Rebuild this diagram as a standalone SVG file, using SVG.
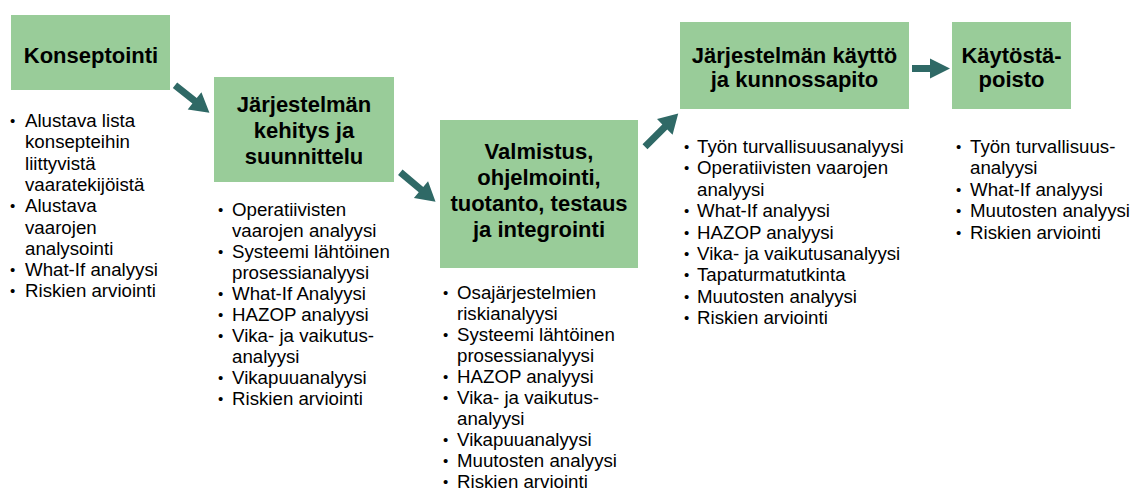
<svg xmlns="http://www.w3.org/2000/svg" width="1135" height="490" viewBox="0 0 1135 490">
  <style>
    .box { fill: #99CC99; }
    .title { font-family: "Liberation Sans", Arial, sans-serif; font-size: 22px; font-weight: bold; fill: #000; text-anchor: middle; }
    .item { font-family: "Liberation Sans", Arial, sans-serif; font-size: 18.7px; fill: #000; }
    .item text:nth-child(odd) { }
    .dot { font-size: 15px; }
    .arrow { fill: #2F6966; }
  </style>
  <rect width="1135" height="490" fill="#fff"/>

  <!-- phase 1 -->
  <g id="konseptointi">
    <rect class="box" x="11" y="15" width="159" height="75"/>
    <text class="title" x="91" y="63">Konseptointi</text>
    <g class="item">
      <text class="dot" x="10" y="126">•</text><text x="25" y="127">Alustava lista</text>
      <text x="25" y="148.3">konsepteihin</text>
      <text x="25" y="169.6">liittyvistä</text>
      <text x="25" y="190.9">vaaratekijöistä</text>
      <text class="dot" x="10" y="211.2">•</text><text x="25" y="212.2">Alustava</text>
      <text x="25" y="233.5">vaarojen</text>
      <text x="25" y="254.8">analysointi</text>
      <text class="dot" x="10" y="275.1">•</text><text x="25" y="276.1">What-If analyysi</text>
      <text class="dot" x="10" y="296.4">•</text><text x="25" y="297.4">Riskien arviointi</text>
    </g>
  </g>

  <!-- phase 2 -->
  <g id="kehitys">
    <rect class="box" x="214" y="77" width="180" height="105"/>
    <text class="title" x="304" y="112">Järjestelmän</text>
    <text class="title" x="304" y="138">kehitys ja</text>
    <text class="title" x="304" y="164">suunnittelu</text>
    <g class="item">
      <text class="dot" x="218" y="215">•</text><text x="232" y="216">Operatiivisten</text>
      <text x="232" y="237">vaarojen analyysi</text>
      <text class="dot" x="218" y="257">•</text><text x="232" y="258">Systeemi lähtöinen</text>
      <text x="232" y="279">prosessianalyysi</text>
      <text class="dot" x="218" y="299">•</text><text x="232" y="300">What-If Analyysi</text>
      <text class="dot" x="218" y="320">•</text><text x="232" y="321">HAZOP analyysi</text>
      <text class="dot" x="218" y="341">•</text><text x="232" y="342">Vika- ja vaikutus-</text>
      <text x="232" y="363">analyysi</text>
      <text class="dot" x="218" y="383">•</text><text x="232" y="384">Vikapuuanalyysi</text>
      <text class="dot" x="218" y="404">•</text><text x="232" y="405">Riskien arviointi</text>
    </g>
  </g>

  <!-- phase 3 -->
  <g id="valmistus">
    <rect class="box" x="440" y="120" width="198" height="148"/>
    <text class="title" x="539" y="159">Valmistus,</text>
    <text class="title" x="539" y="185">ohjelmointi,</text>
    <text class="title" x="539" y="211">tuotanto, testaus</text>
    <text class="title" x="539" y="237">ja integrointi</text>
    <g class="item">
      <text class="dot" x="443" y="298">•</text><text x="457" y="299">Osajärjestelmien</text>
      <text x="457" y="320">riskianalyysi</text>
      <text class="dot" x="443" y="340">•</text><text x="457" y="341">Systeemi lähtöinen</text>
      <text x="457" y="362">prosessianalyysi</text>
      <text class="dot" x="443" y="382">•</text><text x="457" y="383">HAZOP analyysi</text>
      <text class="dot" x="443" y="403">•</text><text x="457" y="404">Vika- ja vaikutus-</text>
      <text x="457" y="425">analyysi</text>
      <text class="dot" x="443" y="445">•</text><text x="457" y="446">Vikapuuanalyysi</text>
      <text class="dot" x="443" y="466">•</text><text x="457" y="467">Muutosten analyysi</text>
      <text class="dot" x="443" y="487">•</text><text x="457" y="488">Riskien arviointi</text>
    </g>
  </g>

  <!-- phase 4 -->
  <g id="kaytto">
    <rect class="box" x="680" y="22" width="229" height="87"/>
    <text class="title" x="794.5" y="63">Järjestelmän käyttö</text>
    <text class="title" x="794.5" y="87">ja kunnossapito</text>
    <g class="item">
      <text class="dot" x="684" y="152">•</text><text x="697" y="153">Työn turvallisuusanalyysi</text>
      <text class="dot" x="684" y="173.4">•</text><text x="697" y="174.4">Operatiivisten vaarojen</text>
      <text x="697" y="195.8">analyysi</text>
      <text class="dot" x="684" y="216.2">•</text><text x="697" y="217.2">What-If analyysi</text>
      <text class="dot" x="684" y="237.6">•</text><text x="697" y="238.6">HAZOP analyysi</text>
      <text class="dot" x="684" y="259">•</text><text x="697" y="260">Vika- ja vaikutusanalyysi</text>
      <text class="dot" x="684" y="280.4">•</text><text x="697" y="281.4">Tapaturmatutkinta</text>
      <text class="dot" x="684" y="301.8">•</text><text x="697" y="302.8">Muutosten analyysi</text>
      <text class="dot" x="684" y="323.2">•</text><text x="697" y="324.2">Riskien arviointi</text>
    </g>
  </g>

  <!-- phase 5 -->
  <g id="kaytostapoisto">
    <rect class="box" x="952" y="22" width="119" height="87"/>
    <text class="title" x="1011.5" y="63">Käytöstä-</text>
    <text class="title" x="1011.5" y="87">poisto</text>
    <g class="item">
      <text class="dot" x="956" y="152">•</text><text x="970" y="153">Työn turvallisuus-</text>
      <text x="970" y="174.4">analyysi</text>
      <text class="dot" x="956" y="194.8">•</text><text x="970" y="195.8">What-If analyysi</text>
      <text class="dot" x="956" y="216.2">•</text><text x="970" y="217.2">Muutosten analyysi</text>
      <text class="dot" x="956" y="237.6">•</text><text x="970" y="238.6">Riskien arviointi</text>
    </g>
  </g>

  <!-- block arrows between phases: drawn along +x from the tail, then placed -->
  <g id="connectors">
    <path class="arrow" transform="translate(175,85.3) rotate(38.5)" d="M0,-3.5 H25 V-11 L44,0 L25,11 V3.5 H0 Z"/>
    <path class="arrow" transform="translate(400.3,172.3) rotate(40)" d="M0,-3.5 H27 V-11 L46,0 L27,11 V3.5 H0 Z"/>
    <path class="arrow" transform="translate(645,146.7) rotate(-45)" d="M0,-3.5 H28 V-11 L47,0 L28,11 V3.5 H0 Z"/>
    <path class="arrow" transform="translate(912,68.5)" d="M0,-3.5 H18 V-10 L38,0 L18,10 V3.5 H0 Z"/>
  </g>
</svg>
